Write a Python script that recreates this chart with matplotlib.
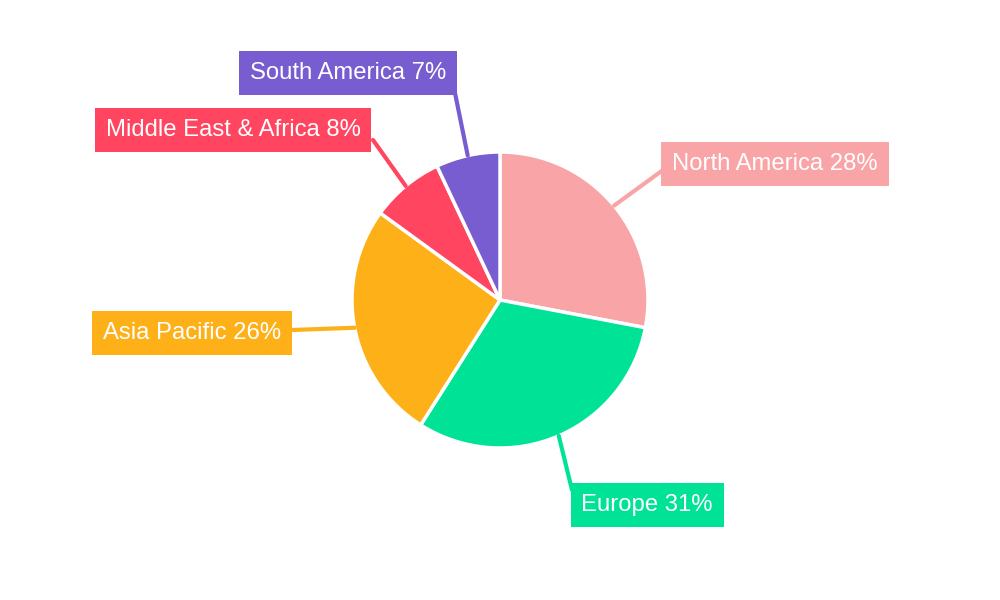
import matplotlib
matplotlib.use("Agg")
import matplotlib.pyplot as plt
import numpy as np

labels = ["North America", "Europe", "Asia Pacific", "Middle East & Africa", "South America"]
values = [28, 31, 26, 8, 7]
colors = ["#F9A5A7", "#00E396", "#FEB019", "#FF4560", "#775DD0"]
label_pos = [(775, 164), (647, 505), (192, 333), (233, 130), (348, 73)]  # figure pixels (from top)
line_end = [(663, 170), (572, 490), (292, 330), (373, 140), (455, 93)]

plt.rcParams['font.family'] = ['Liberation Sans', 'DejaVu Sans']
fig = plt.figure(figsize=(10, 6), dpi=100)
ax = fig.add_axes([0.352, 1 - 448 / 600, 0.296, 296 / 600])
wedges, _ = ax.pie(values, colors=colors, startangle=90, counterclock=False,
                   wedgeprops=dict(edgecolor="white", linewidth=2.5))
ax.set_xlim(-1, 1); ax.set_ylim(-1, 1)
ax.set_aspect("equal")

total = sum(values)
for w, lab, v, c, (px, py), (lx, ly) in zip(wedges, labels, values, colors, label_pos, line_end):
    ang = np.deg2rad((w.theta1 + w.theta2) / 2)
    xy = (np.cos(ang) * 1.0, np.sin(ang) * 1.0)
    ax.annotate("", xy=xy, xytext=(lx / 1000, 1 - ly / 600), textcoords="figure fraction",
                arrowprops=dict(arrowstyle="-", color=c, lw=3, shrinkA=0, shrinkB=0))
    fig.text(px / 1000, 1 - py / 600, f"{lab} {round(v / total * 100)}%", ha="center", va="center",
             fontsize=17.2, color="white",
             bbox=dict(boxstyle="square,pad=0.45", facecolor=c, edgecolor="none"))

fig.savefig("out.png", dpi=100)
